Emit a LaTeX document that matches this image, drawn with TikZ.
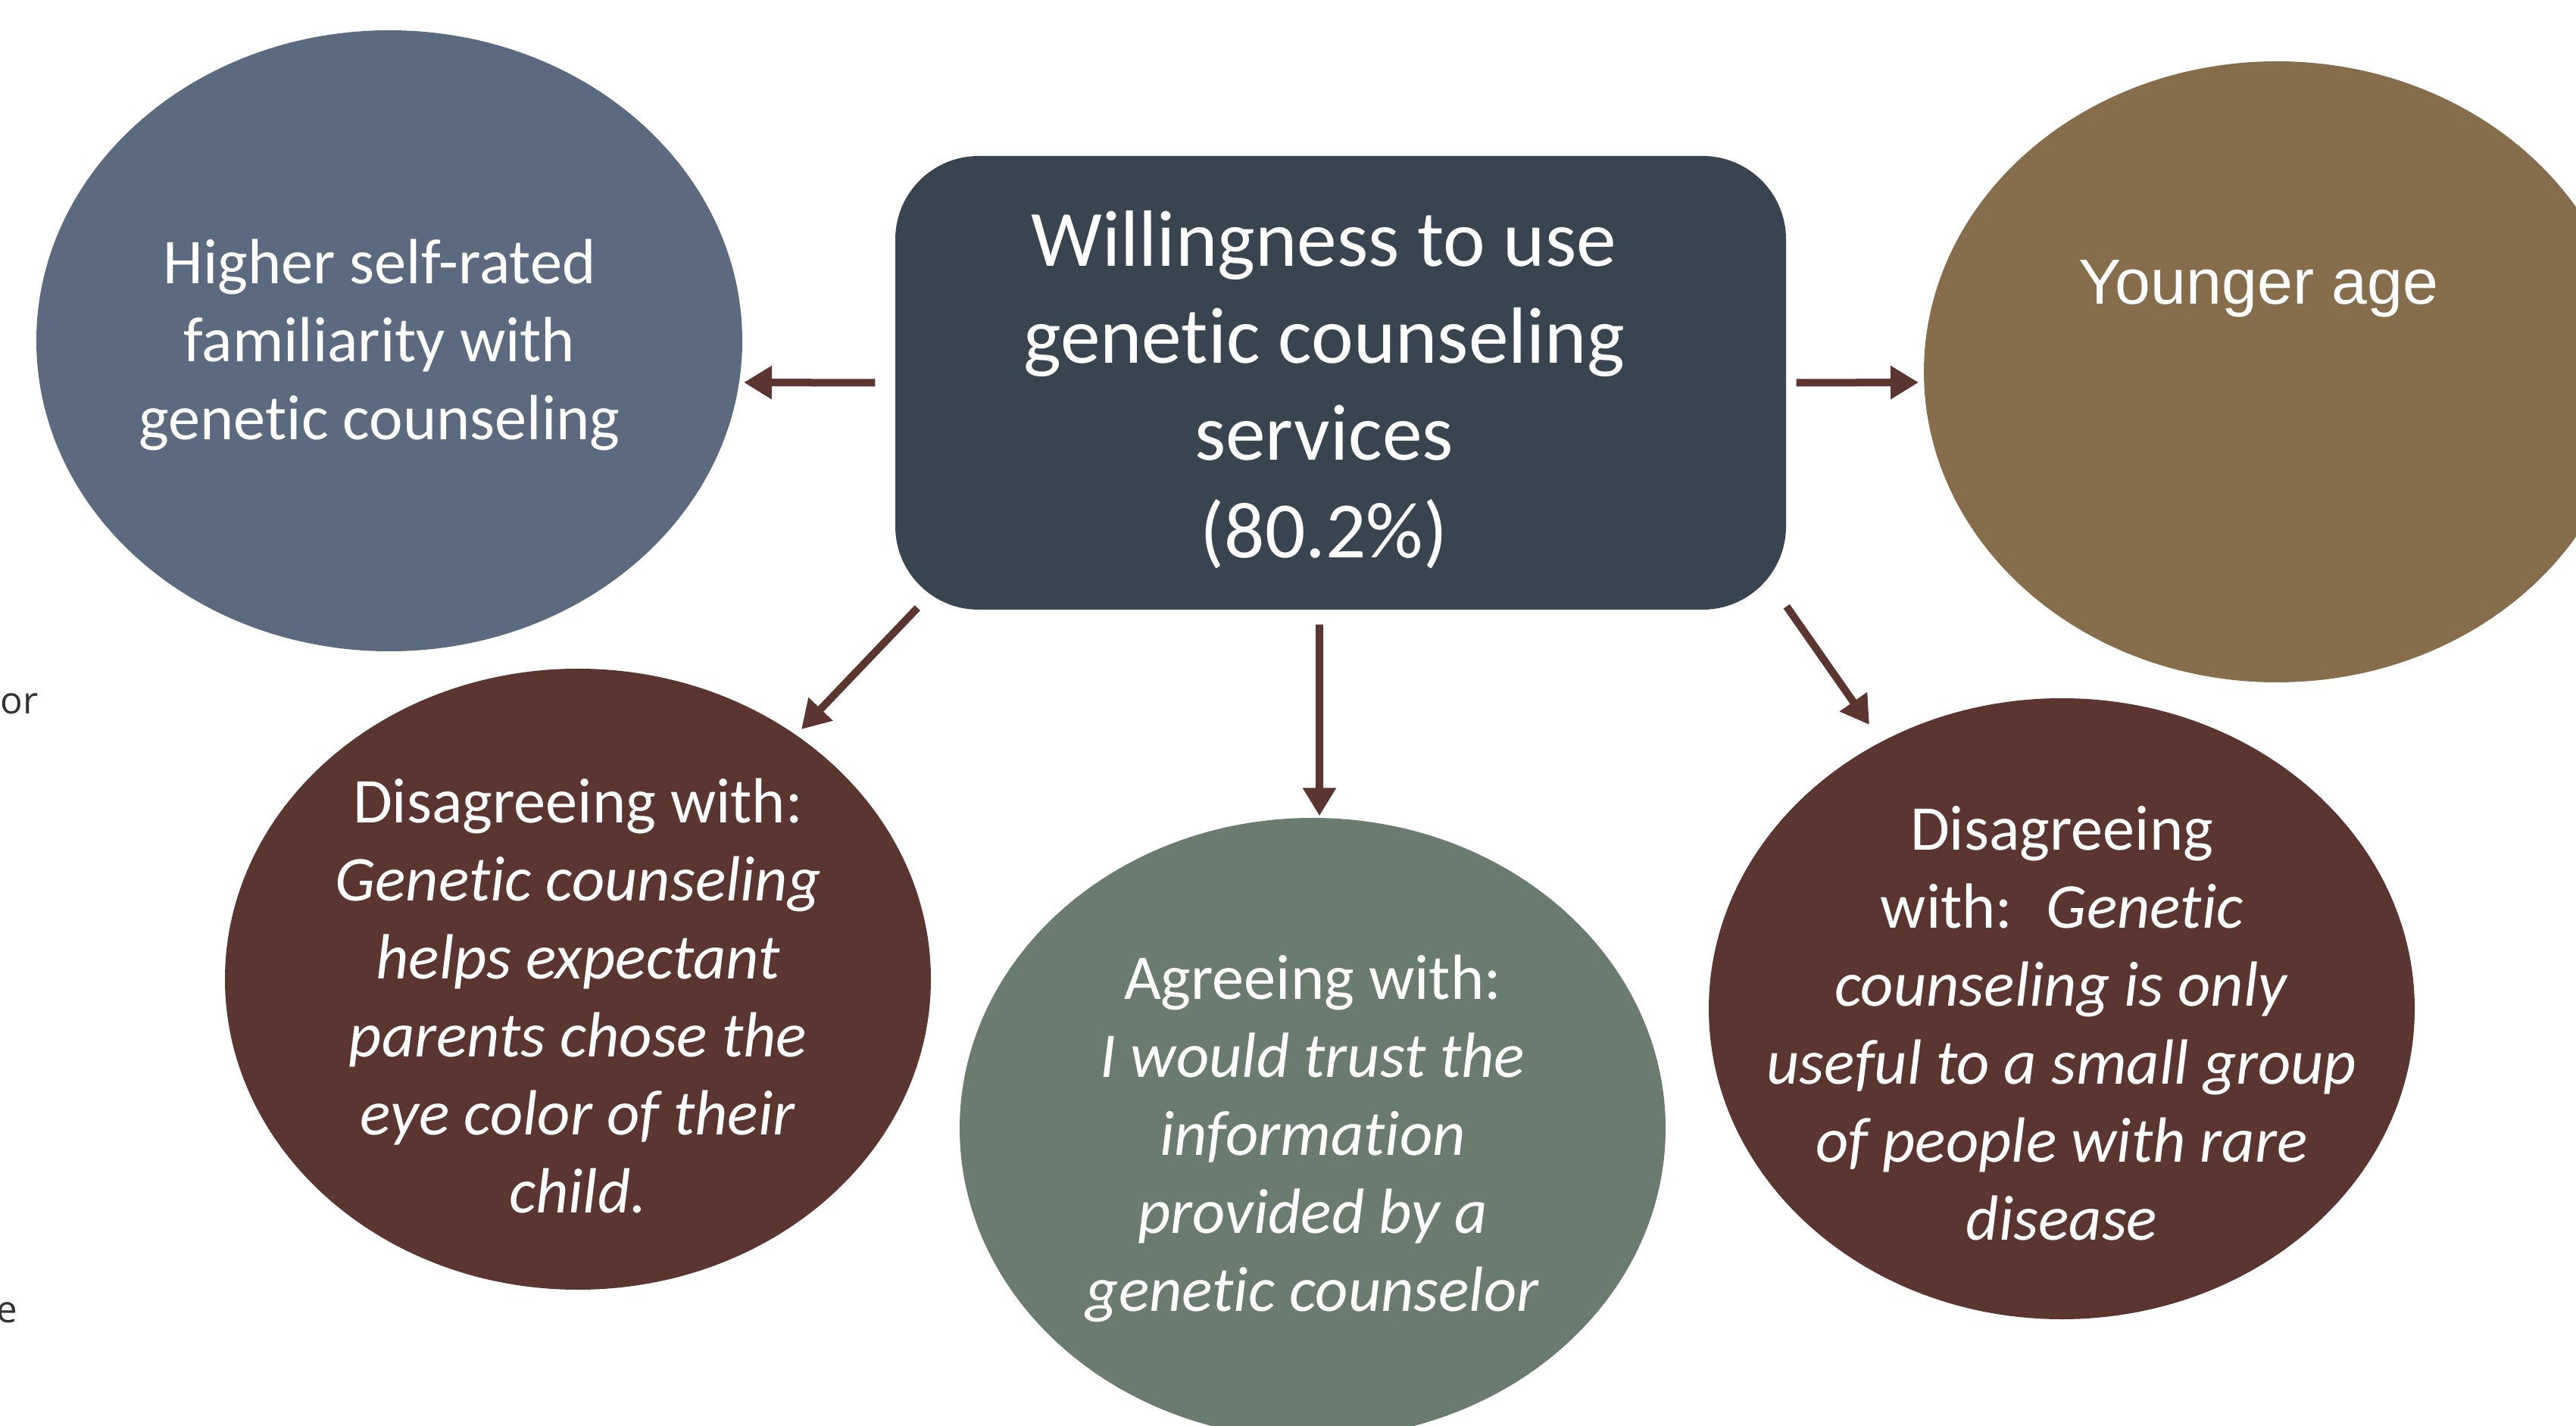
\documentclass[tikz,border=0pt]{standalone}
\usepackage{fontspec}
\setmainfont{Carlito}[Ligatures={NoCommon, NoRare}]
\newfontfamily\arialfont{Liberation Sans}
\newfontfamily\notefont{Open Sans}
\usepackage{xcolor}
\usepackage{tikz}
\usetikzlibrary{calc, arrows.meta, shapes.geometric}

\definecolor{slateblue}{HTML}{5B6A7E}
\definecolor{centerslate}{HTML}{38444F}
\definecolor{olivebrown}{HTML}{866D4C}
\definecolor{darkmaroon}{HTML}{5B352F}
\definecolor{sagegreen}{HTML}{6A7B6F}
\definecolor{arrowbrown}{HTML}{5B3530}
\definecolor{notegray}{HTML}{333333}

\tikzset{
    bubble/.style={ellipse, minimum width=9.32cm, minimum height=8.2cm, inner sep=0pt},
    bubbletext/.style={text=white, align=center, font=\fontsize{24}{29.3}\selectfont},
    notetext/.style={text=notegray, inner sep=0pt, font=\notefont\fontsize{14}{17}\selectfont},
    arr/.style={-{Triangle[length=0.37cm, width=0.42cm]}, line width=0.1cm, draw=arrowbrown},
}

\begin{document}
\begin{tikzpicture}
        \useasboundingbox (0,0) rectangle (34.01,-18.83);

        %% Cut-off notes on the left edge
        \node (noteor) [notetext, anchor=base west] at (0,-9.43) {or};
        \node (notee) [notetext, anchor=base west] at (-0.05,-17.46) {e};

        %% Central box
        \node (will) [rectangle, rounded corners=1.1cm, fill=centerslate, minimum width=11.76cm, minimum height=5.99cm] at (17.70,-5.055) {};
        \node (willtext) [bubbletext, font=\fontsize{30}{36.5}\selectfont] at ($(will.center)+(-0.22,-0.09)$) {Willingness to use\\genetic counseling\\services\\(80.2\%)};

        %% Bubbles
        \node (familiarity) [bubble, fill=slateblue] at (5.14,-4.50) {};
        \node (young) [bubble, fill=olivebrown] at (30.06,-4.91) {};
        \node (eyecolor) [bubble, fill=darkmaroon] at (7.63,-12.93) {};
        \node (trust) [bubble, fill=sagegreen] at (17.33,-14.90) {};
        \node (rare) [bubble, fill=darkmaroon] at (27.22,-13.32) {};

        %% Bubble texts
        \node (familiaritytext) [bubbletext] at ($(familiarity.center)+(-0.13,-0.05)$) {Higher self-rated\\familiarity with\\genetic counseling};
        \node (youngtext) [bubbletext, font=\arialfont\fontsize{24}{29.3}\selectfont] at ($(young.center)+(-0.24,1.10)$) {Younger age};
        \node (eyecolortext) [bubbletext] at ($(eyecolor.center)+(0,-0.22)$) {Disagreeing with:\\\textit{Genetic counseling}\\\textit{helps expectant}\\\textit{parents chose the}\\\textit{eye color of their}\\\textit{child.}};
        \node (trusttext) [bubbletext] at ($(trust.center)+(0,-0.13)$) {Agreeing with:\\\textit{I would trust the}\\\textit{information}\\\textit{provided by a}\\\textit{genetic counselor}};
        \node (raretext) [bubbletext] at ($(rare.center)+(0,-0.19)$) {Disagreeing\\with: \ \textit{Genetic}\\\textit{counseling is only}\\\textit{useful to a small group}\\\textit{of people with rare}\\\textit{disease}};

        %% Arrows
        \draw [arr] ($(will.west) + (-0.26,0)$) -- ($(familiarity.center) + (4.68,-0.55)$);
        \draw [arr] ($(will.east) + (0.13,0)$) -- ($(young.center) + (-4.73,-0.14)$);
        \draw [arr] ($(will.south west) + (0.30,0.03)$) -- ($(eyecolor.center) + (2.95,3.30)$);
        \draw [arr] ($(will.south) + (-0.28,-0.19)$) -- ($(trust.north) + (0.09,0.02)$);
        \draw [arr] ($(will.south east) + (0,0.05)$) -- ($(rare.center) + (-2.54,3.75)$);

\end{tikzpicture}
\end{document}
